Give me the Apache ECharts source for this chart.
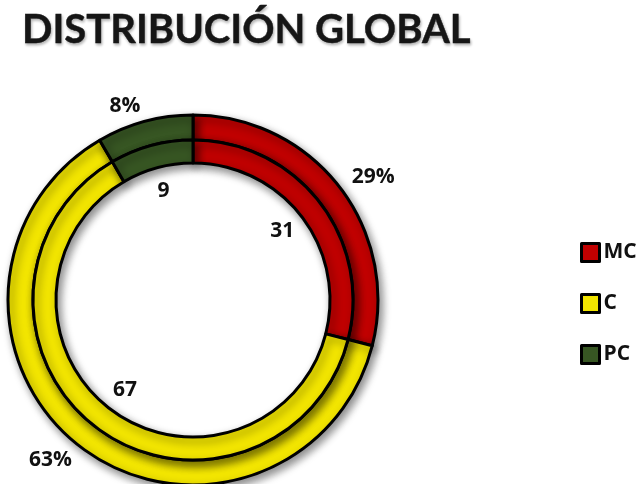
<!DOCTYPE html>
<html>
<head>
<meta charset="utf-8">
<style>
  html, body { margin: 0; padding: 0; background: #ffffff; }
  #chart { width: 644px; height: 484px; }
</style>
<script src="https://cdn.jsdelivr.net/npm/echarts@6/dist/echarts.min.js"></script>
</head>
<body>
<div id="chart"></div>
<script>
// Categories and counts per category
const categories = ['MC', 'C', 'PC'];
const counts = [31, 67, 9];
const colors = ['#C00000', '#F2E500', '#375623'];

const TITLE_FONT = 'Lato';
const LABEL_FONT = '"Open Sans"';
const center = [193, 300];

const data = categories.map((name, i) => ({ name: name, value: counts[i] }));

const ringStyle = {
  borderColor: '#000000',
  borderWidth: 3,
  shadowBlur: 8,
  shadowOffsetX: 3,
  shadowOffsetY: 4,
  shadowColor: 'rgba(0,0,0,0.45)'
};

const labelText = {
  fontFamily: LABEL_FONT,
  fontWeight: 'bold',
  fontSize: 21,
  color: '#111111'
};

const chart = echarts.init(document.getElementById('chart'));
chart.setOption({
  color: colors,
  animation: false,
  title: {
    text: 'DISTRIBUCIÓN GLOBAL',
    left: 17,
    top: 5,
    textStyle: {
      fontFamily: TITLE_FONT,
      fontWeight: 'bold',
      fontSize: 40,
      color: '#161616',
      textBorderColor: '#161616',
      textBorderWidth: 0.4,
      textShadowColor: 'rgba(0,0,0,0.3)',
      textShadowBlur: 3,
      textShadowOffsetX: 1,
      textShadowOffsetY: 2
    }
  },
  legend: {
    orient: 'vertical',
    left: 580,
    top: 242,
    padding: 0,
    itemWidth: 18,
    itemHeight: 18,
    itemGap: 30,
    icon: 'rect',
    data: categories,
    itemStyle: { borderColor: '#000000', borderWidth: 3, shadowBlur: 0, shadowOffsetX: 0, shadowOffsetY: 0 },
    textStyle: { fontFamily: LABEL_FONT, fontWeight: 'bold', fontSize: 21, color: '#111111', padding: [0, 0, 0, -1] }
  },
  series: [
    {
      // outer ring, with its percentage labels just outside
      type: 'pie',
      center: center,
      radius: [160, 185],
      startAngle: 90,
      clockwise: true,
      silent: true,
      avoidLabelOverlap: false,
      label: Object.assign({
        show: true,
        position: 'outside',
        distanceToLabelLine: 0,
        formatter: p => Math.round(p.percent) + '%'
      }, labelText),
      labelLine: { show: true, length: 16, length2: 0, lineStyle: { opacity: 0 } },
      itemStyle: ringStyle,
      data: data
    },
    {
      // inner ring
      type: 'pie',
      center: center,
      radius: [137, 160],
      startAngle: 90,
      clockwise: true,
      silent: true,
      label: { show: false },
      labelLine: { show: false },
      itemStyle: ringStyle,
      data: data
    },
    {
      // count labels inside the hole
      type: 'pie',
      center: center,
      radius: [84, 136],
      startAngle: 90,
      clockwise: true,
      silent: true,
      itemStyle: { color: 'rgba(0,0,0,0)', borderWidth: 0 },
      label: Object.assign({
        show: true,
        position: 'inside',
        formatter: p => String(p.value)
      }, labelText),
      labelLine: { show: false },
      data: data
    }
  ]
});
</script>
</body>
</html>
